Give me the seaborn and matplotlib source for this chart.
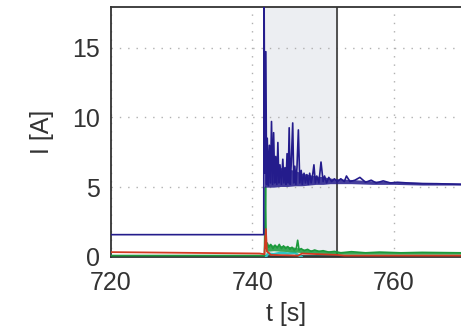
import matplotlib
matplotlib.use("Agg")
import matplotlib.pyplot as plt
import seaborn as sns

# ---- data ----
blue_t = [720, 741.6, 741.65, 741.75, 741.9, 742.0, 742.1, 742.25, 742.4, 742.55, 742.7, 742.85,
          743.0, 743.15, 743.3, 743.45, 743.6, 743.75, 743.9, 744.1, 744.3, 744.45, 744.6, 744.75,
          744.9, 745.05, 745.2, 745.35, 745.5, 745.7, 745.85, 746.0, 746.15, 746.3, 746.5, 746.7,
          746.9, 747.05, 747.3, 747.5, 747.7, 747.9, 748.1, 748.3, 748.5, 748.7, 748.9, 749.1,
          749.4, 749.7, 750.0, 750.2, 750.5, 750.8, 751.2, 751.6, 752.0, 752.5, 753.0, 753.3,
          753.8, 754.5, 755.2, 756.0, 756.8, 757.5, 758.5, 759.5, 760.5, 762.0, 764.0, 766.0, 769.5]
blue_i = [1.6, 1.6, 19.0, 6.0, 14.7, 5.2, 8.5, 5.1, 8.0, 5.3, 9.7, 5.2,
          8.9, 5.3, 7.2, 5.2, 8.2, 5.3, 6.6, 5.2, 7.0, 5.3, 6.4, 5.2,
          7.4, 5.3, 9.25, 5.2, 6.8, 9.6, 5.3, 6.5, 5.2, 6.4, 9.1, 5.3,
          6.2, 5.2, 6.0, 5.3, 5.9, 5.2, 6.0, 5.3, 5.8, 6.6, 5.3, 5.8,
          5.3, 6.8, 5.4, 5.8, 5.3, 5.7, 5.4, 5.6, 5.4, 5.6, 5.4, 5.8,
          5.4, 5.5, 5.7, 5.35, 5.5, 5.3, 5.45, 5.3, 5.35, 5.3, 5.25, 5.25, 5.2]

# dense noise envelope of the blue current
band_t = [741.7, 742.0, 743.0, 744.0, 745.0, 746.0, 747.0, 748.0, 749.0, 750.0, 751.0, 752.0,
          754.0, 757.0, 760.0, 764.0, 769.5]
band_lo = [5.0, 5.0, 5.0, 5.05, 5.05, 5.1, 5.1, 5.15, 5.2, 5.2, 5.25, 5.25,
           5.25, 5.2, 5.2, 5.15, 5.15]
band_hi = [7.5, 6.8, 6.5, 6.4, 6.3, 6.2, 6.0, 5.9, 5.8, 5.75, 5.65, 5.6,
           5.55, 5.45, 5.4, 5.35, 5.3]

green_t = [720, 741.7, 741.85, 741.95, 742.1, 742.3, 742.6, 742.9, 743.2, 743.5, 743.8, 744.1,
           744.4, 744.7, 745.0, 745.3, 745.6, 745.9, 746.2, 746.4, 746.6, 746.9, 747.3, 747.8,
           748.3, 748.8, 749.4, 750.0, 750.8, 751.6, 752.5, 754.0, 756.0, 758.0, 761.0, 764.0, 769.5]
green_i = [0.1, 0.1, 5.0, 0.6, 1.0, 0.7, 0.9, 0.6, 0.85, 0.65, 0.9, 0.6,
           0.8, 0.6, 0.75, 0.55, 0.7, 0.5, 0.6, 1.2, 0.5, 0.6, 0.45, 0.55,
           0.4, 0.5, 0.4, 0.45, 0.35, 0.4, 0.3, 0.38, 0.3, 0.35, 0.3, 0.33, 0.3]

gband_t = [741.9, 743.0, 744.5, 746.0, 747.5, 749.0, 750.5, 752.0, 756.0, 762.0, 769.5]
gband_lo = [0.4, 0.45, 0.4, 0.35, 0.3, 0.25, 0.2, 0.2, 0.2, 0.2, 0.2]
gband_hi = [0.95, 0.85, 0.8, 0.7, 0.55, 0.5, 0.45, 0.4, 0.38, 0.35, 0.33]

red_t = [720, 741.0, 741.7, 741.9, 742.05, 742.3, 742.6, 746.5, 747.0, 752.0, 753.0, 769.5]
red_i = [0.35, 0.25, 0.2, 2.0, 0.4, 0.3, 0.15, 0.1, 0.25, 0.15, 0.1, 0.1]

cyan_t = [741.9, 742.2, 743.0, 744.0, 745.0, 746.0, 746.6, 747.0]
cyan_i = [0.0, 0.25, 0.2, 0.3, 0.25, 0.3, 0.1, 0.0]

base_t = [720, 769.5]
base_i = [0.0, 0.0]

shade_start, shade_end = 741.7, 752.0
x_ticks = [720, 740, 760]
y_ticks = [0, 5, 10, 15]

# ---- plotting ----
sns.set_style("white")
plt.rcParams['font.family'] = ['Liberation Sans', 'DejaVu Sans']

fig = plt.figure(figsize=(4.61, 3.3), dpi=100)
ax = fig.add_axes([111/461, 73/330, 350/461, 250/330])

BLUE = '#241c8c'
GREEN = '#1c9a3c'

ax.axvspan(shade_start, shade_end, color='#eceef2', zorder=0)
ax.axvline(shade_end, color='#444444', lw=1.3, zorder=1)

sns.lineplot(x=base_t, y=base_i, ax=ax, color='#2d5a55', lw=3, zorder=2, estimator=None, sort=False)
sns.lineplot(x=cyan_t, y=cyan_i, ax=ax, color='#2fc4c4', lw=1.8, zorder=3, estimator=None, sort=False)
ax.fill_between(gband_t, gband_lo, gband_hi, color=GREEN, alpha=0.85, lw=0, zorder=4)
sns.lineplot(x=green_t, y=green_i, ax=ax, color=GREEN, lw=1.2, zorder=4, estimator=None, sort=False)
sns.lineplot(x=red_t, y=red_i, ax=ax, color='#d23a22', lw=1.3, zorder=4.5, estimator=None, sort=False)
ax.fill_between(band_t, band_lo, band_hi, color=BLUE, alpha=0.85, lw=0, zorder=5)
sns.lineplot(x=blue_t, y=blue_i, ax=ax, color=BLUE, lw=1.2, zorder=5, estimator=None, sort=False)

ax.set_xlim(720, 769.5)
ax.set_ylim(0, 17.9)
ax.set_xticks(x_ticks)
ax.set_yticks(y_ticks)
ax.grid(True, color='#b0b0b0', linestyle=(0, (1, 5)), lw=1)
ax.tick_params(direction='in', length=3, labelsize=18, colors='#333333')
ax.tick_params(axis='x', pad=10)
ax.tick_params(axis='y', pad=8)
for s in ['left', 'top', 'bottom']:
    ax.spines[s].set_color('#333333')
    ax.spines[s].set_linewidth(1.3)
ax.spines['right'].set_visible(False)
ax.set_xlabel('t [s]', fontsize=18, color='#333333', labelpad=5)
ax.set_ylabel('I [A]', fontsize=18, color='#333333', labelpad=13)

fig.savefig('out.png', dpi=100)
